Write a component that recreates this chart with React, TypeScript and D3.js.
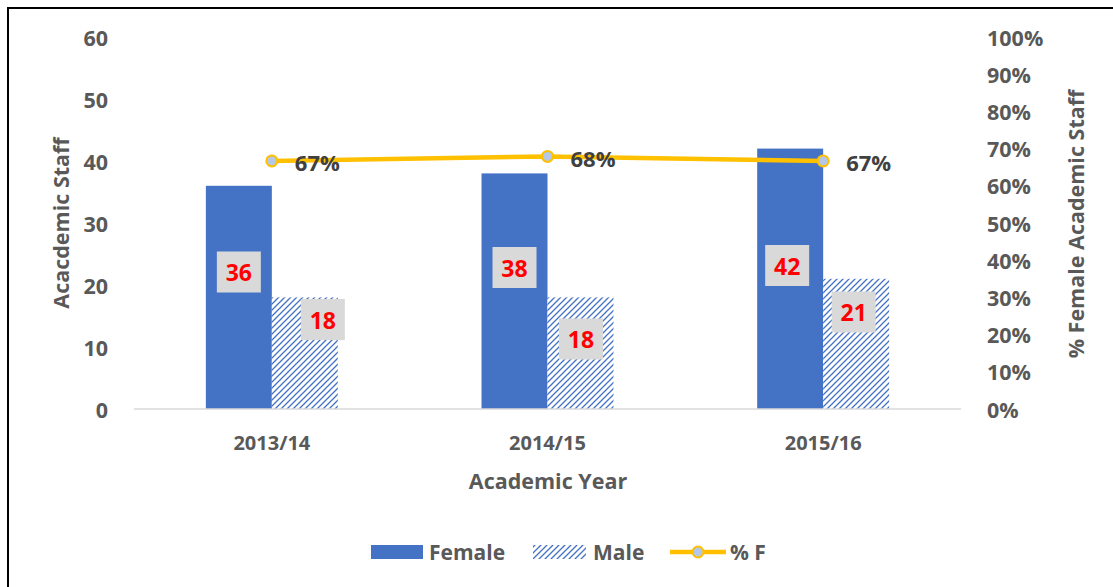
import React from "react";
import * as d3 from "d3";

const years = ["2013/14", "2014/15", "2015/16"];
const female = [36, 38, 42];
const male = [18, 18, 21];
const pctFemale = [0.667, 0.679, 0.667];
const pctLabels = ["67%", "68%", "67%"];
const leftTicks = [0, 10, 20, 30, 40, 50, 60];
const rightTicks = [0, 0.1, 0.2, 0.3, 0.4, 0.5, 0.6, 0.7, 0.8, 0.9, 1.0];

// manual label placement (pixel offsets from bar centre / bar mid)
const femaleLabelPos = [
  { dx: 0, y: 272 },
  { dx: 0, y: 267.5 },
  { dx: -3, y: 265.5 },
];
const maleLabelPos = [
  { dx: 18, y: 319.5 },
  { dx: 0.5, y: 339 },
  { dx: -2.5, y: 312 },
];

const W = 1113;
const H = 587;
const FONT = "'Open Sans', Lato, sans-serif";
const AXIS_COLOR = "#595959";
const BLUE = "#4472C4";
const GOLD = "#FFC000";

export default function App() {
  const x = d3.scaleBand<string>().domain(years).range([134, 961]).padding(0);
  const sub = d3
    .scaleBand<string>()
    .domain(["F", "M"])
    .range([0, x.bandwidth()])
    .paddingInner(0)
    .paddingOuter(1.089);
  const y = d3.scaleLinear().domain([0, 60]).range([409, 37]);
  const y2 = d3.scaleLinear().domain([0, 1]).range([409, 37]);
  const fmtPct = d3.format(".0%");

  const center = (yr: string) => (x(yr) as number) + x.bandwidth() / 2;
  const line = d3
    .line<number>()
    .x((_, i) => center(years[i]))
    .y((d) => y2(d));

  const boxW = 44;
  const boxH = 41;

  return (
    <svg
      width={W}
      height={H}
      style={{ position: "absolute", left: 0, top: 0, background: "#fff" }}
      fontFamily={FONT}
    >
      <defs>
        <pattern id="hatch" width="6" height="6" patternUnits="userSpaceOnUse">
          <rect width="6" height="6" fill="#fff" />
          <path
            d="M0,6 L6,0 M-1.5,1.5 L1.5,-1.5 M4.5,7.5 L7.5,4.5"
            stroke={BLUE}
            strokeWidth={1.3}
          />
        </pattern>
      </defs>
      <rect x={0} y={0} width={W} height={H} fill="#fff" />
      {/* frame */}
      <line x1={7} x2={W} y1={8} y2={8} stroke="#000" strokeWidth={2} />
      <line x1={8} x2={8} y1={7} y2={H} stroke="#000" strokeWidth={2} />

      {/* left ticks */}
      {leftTicks.map((t) => (
        <text
          key={"l" + t}
          x={108}
          y={y(t)}
          textAnchor="end"
          dominantBaseline="central"
          fontSize={21.5}
          fontWeight="bold"
          fill={AXIS_COLOR}
        >
          {t}
        </text>
      ))}
      {/* right ticks */}
      {rightTicks.map((t) => (
        <text
          key={"r" + t}
          x={987}
          y={y2(t)}
          textAnchor="start"
          dominantBaseline="central"
          fontSize={21.5}
          fontWeight="bold"
          fill={AXIS_COLOR}
        >
          {fmtPct(t)}
        </text>
      ))}

      {/* axis titles */}
      <text
        transform={`translate(60,223) rotate(-90)`}
        textAnchor="middle"
        dominantBaseline="central"
        fontSize={21.5}
        fontWeight="bold"
        fill={AXIS_COLOR}
      >
        Acacdemic Staff
      </text>
      <text
        transform={`translate(1075,224) rotate(-90)`}
        textAnchor="middle"
        dominantBaseline="central"
        fontSize={21.5}
        fontWeight="bold"
        fill={AXIS_COLOR}
      >
        % Female Academic Staff
      </text>

      {/* bars */}
      {years.map((yr, i) => {
        const x0 = x(yr) as number;
        return (
          <g key={yr}>
            <rect
              x={x0 + (sub("F") as number)}
              y={y(female[i])}
              width={sub.bandwidth()}
              height={y(0) - y(female[i])}
              fill={BLUE}
            />
            <rect
              x={x0 + (sub("M") as number)}
              y={y(male[i])}
              width={sub.bandwidth()}
              height={y(0) - y(male[i])}
              fill="url(#hatch)"
            />
          </g>
        );
      })}

      {/* baseline */}
      <line x1={134} x2={961} y1={y(0)} y2={y(0)} stroke="#D9D9D9" strokeWidth={1.5} />

      {/* x ticks */}
      {years.map((yr) => (
        <text
          key={"x" + yr}
          x={center(yr)}
          y={442}
          textAnchor="middle"
          dominantBaseline="central"
          fontSize={20}
          fontWeight="bold"
          fill={AXIS_COLOR}
        >
          {yr}
        </text>
      ))}
      <text
        x={548}
        y={480}
        textAnchor="middle"
        dominantBaseline="central"
        fontSize={21.5}
        fontWeight="bold"
        fill={AXIS_COLOR}
      >
        Academic Year
      </text>

      {/* data labels */}
      {years.map((yr, i) => {
        const x0 = x(yr) as number;
        const fc = x0 + (sub("F") as number) + sub.bandwidth() / 2 + femaleLabelPos[i].dx;
        const mc = x0 + (sub("M") as number) + sub.bandwidth() / 2 + maleLabelPos[i].dx;
        const fy = femaleLabelPos[i].y;
        const my = maleLabelPos[i].y;
        return (
          <g key={"lab" + yr}>
            <rect x={fc - boxW / 2} y={fy - boxH / 2} width={boxW} height={boxH} fill="#D9D9D9" />
            <text
              x={fc}
              y={fy}
              textAnchor="middle"
              dominantBaseline="central"
              fontSize={23}
              fontWeight="bold"
              fill="#FF0000"
            >
              {female[i]}
            </text>
            <rect x={mc - boxW / 2} y={my - boxH / 2} width={boxW} height={boxH} fill="#D9D9D9" />
            <text
              x={mc}
              y={my}
              textAnchor="middle"
              dominantBaseline="central"
              fontSize={23}
              fontWeight="bold"
              fill="#FF0000"
            >
              {male[i]}
            </text>
          </g>
        );
      })}

      {/* line */}
      <path d={line(pctFemale) as string} fill="none" stroke={GOLD} strokeWidth={4.5} />
      {pctFemale.map((p, i) => (
        <circle
          key={"pt" + i}
          cx={center(years[i])}
          cy={y2(p)}
          r={5.5}
          fill="#B4C7E7"
          stroke={GOLD}
          strokeWidth={2}
        />
      ))}
      {pctFemale.map((p, i) => (
        <text
          key={"pl" + i}
          x={center(years[i]) + 23}
          y={y2(p) + 1.5}
          textAnchor="start"
          dominantBaseline="central"
          fontSize={22}
          fontWeight="bold"
          fill="#404040"
        >
          {pctLabels[i]}
        </text>
      ))}

      {/* legend */}
      <rect x={371} y={545} width={52} height={14} fill={BLUE} />
      <text x={429} y={552} dominantBaseline="central" fontSize={21} fontWeight="bold" fill={AXIS_COLOR}>
        Female
      </text>
      <rect x={533} y={545} width={53} height={14} fill="url(#hatch)" />
      <text x={593} y={552} dominantBaseline="central" fontSize={21} fontWeight="bold" fill={AXIS_COLOR}>
        Male
      </text>
      <line x1={670} x2={726} y1={552} y2={552} stroke={GOLD} strokeWidth={4.5} />
      <circle cx={698} cy={552} r={5.5} fill="#B4C7E7" stroke={GOLD} strokeWidth={2} />
      <text x={730} y={552} dominantBaseline="central" fontSize={21} fontWeight="bold" fill={AXIS_COLOR}>
        % F
      </text>
    </svg>
  );
}
